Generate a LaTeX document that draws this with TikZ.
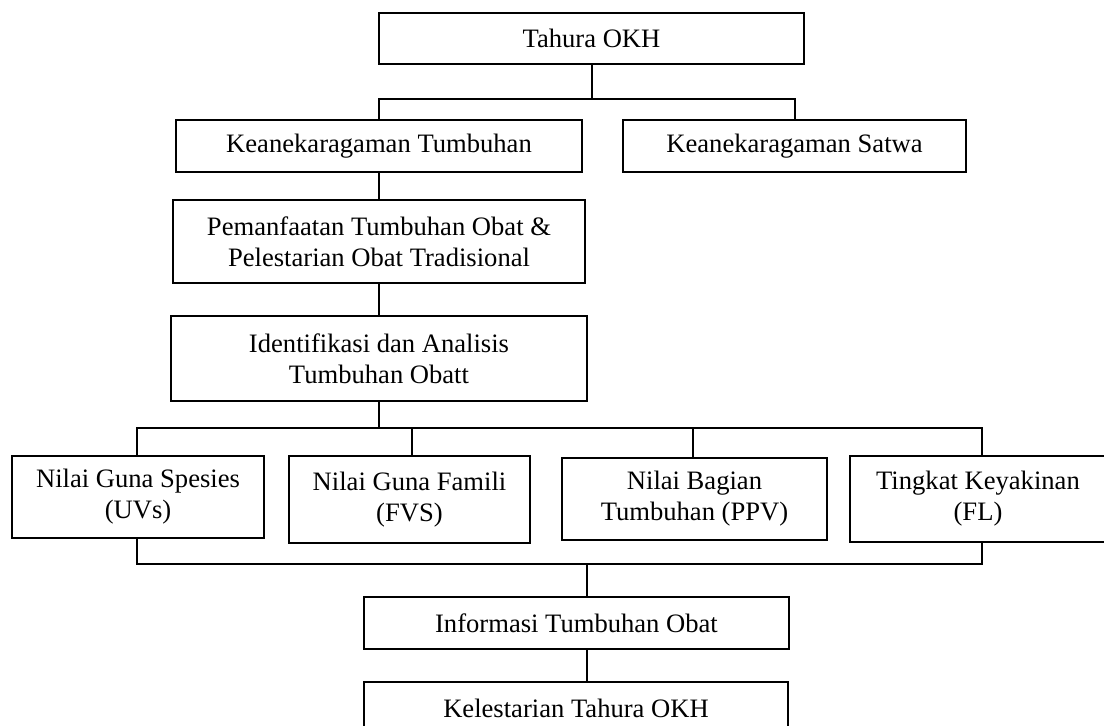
\documentclass[tikz,border=0pt]{standalone}
\usepackage{fontspec}
\setmainfont{Liberation Serif}
\begin{document}
\begin{tikzpicture}[x=1pt,y=-1pt,
  box/.style={draw=black,line width=2pt,align=center,inner sep=0pt,
    font=\fontsize{26.6}{31}\selectfont},
  link/.style={draw=black,line width=2pt}]
\useasboundingbox[fill=white] (0,0) rectangle (1104,726);
\begin{scope}
\clip (0,0) rectangle (1104,726);
\node[box,minimum width=425,minimum height=51] (top) at (591.5,38.5) {Tahura OKH};
\node[box,minimum width=406,minimum height=52] (kt) at (379,146) {Keanekaragaman Tumbuhan};
\node[box,minimum width=343,minimum height=52] (ks) at (794.5,146) {Keanekaragaman Satwa};
\node[box,minimum width=412,minimum height=83] (pem) at (379,241.5) {Pemanfaatan Tumbuhan Obat \&\\Pelestarian Obat Tradisional};
\node[box,minimum width=416,minimum height=85] (ide) at (379,358.5) {Identifikasi dan Analisis\\Tumbuhan Obatt};
\node[box,minimum width=252,minimum height=82] (n1) at (138,497) {Nilai Guna Spesies\\(UVs)};
\node[box,minimum width=241,minimum height=87] (n2) at (409.5,499.5) {Nilai Guna Famili\\(FVS)};
\node[box,minimum width=265,minimum height=82] (n3) at (694.5,499) {Nilai Bagian\\Tumbuhan (PPV)};
\node[box,minimum width=256,minimum height=86] (n4) at (978,499) {Tingkat Keyakinan\\(FL)};
\node[box,minimum width=425,minimum height=52] (info) at (576.5,623) {Informasi Tumbuhan Obat};
\node[box,minimum width=424,minimum height=52] (kel) at (576,708) {Kelestarian Tahura OKH};

% junction coordinates
\coordinate (j0) at (591.5,99);
\coordinate (a1) at (137,428);
\coordinate (a2) at (412,428);
\coordinate (a3) at (693,428);
\coordinate (a4) at (982,428);
\coordinate (b1) at (137,564);
\coordinate (b4) at (982,564);
\coordinate (bm) at (587,564);

\draw[link] (top.south) -- (j0);
\draw[link] (kt.north) |- (j0) -| (ks.north);
\draw[link] (kt.south) -- (pem.north);
\draw[link] (pem.south) -- (ide.north);
\draw[link] (ide.south) -- (ide.south |- a1);
\draw[link] (a1 |- n1.north) -- (a1) -- (a4) -- (a4 |- n4.north);
\draw[link] (a2) -- (a2 |- n2.north);
\draw[link] (a3) -- (a3 |- n3.north);
\draw[link] (b1 |- n1.south) -- (b1) -- (b4) -- (b4 |- n4.south);
\draw[link] (bm) -- (bm |- info.north);
\draw[link] (bm |- info.south) -- (bm |- kel.north);
\end{scope}
\end{tikzpicture}
\end{document}
